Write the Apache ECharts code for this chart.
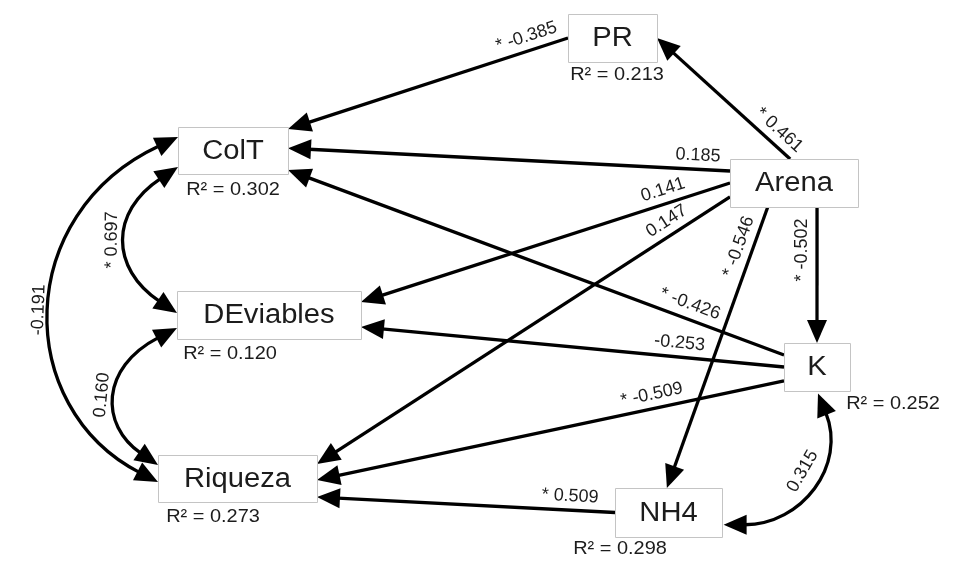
<!DOCTYPE html>
<html><head><meta charset="utf-8">
<script src="https://cdn.jsdelivr.net/npm/echarts@6/dist/echarts.min.js"></script>
<style>html,body{margin:0;padding:0;background:#fff}#c{width:956px;height:565px}</style>
</head><body><div id="c"></div>
<script>
// ---------------- data ----------------
const nodeNames = ['PR', 'ColT', 'Arena', 'DEviables', 'K', 'Riqueza', 'NH4'];
const nodeX = [612.5, 233, 794, 269, 817, 237.5, 668.5];
const nodeY = [38, 150.5, 183, 315, 367, 478.5, 512.5];
const rSquared = ['0.213', '0.302', null, '0.120', '0.252', '0.273', '0.298'];

const pathFrom = ['Arena', 'PR', 'Arena', 'Arena', 'Arena', 'Arena', 'Arena', 'K', 'K', 'K', 'NH4'];
const pathTo = ['PR', 'ColT', 'ColT', 'DEviables', 'Riqueza', 'NH4', 'K', 'ColT', 'DEviables', 'Riqueza', 'Riqueza'];
const pathCoef = ['0.461', '-0.385', '0.185', '0.141', '0.147', '-0.546', '-0.502', '-0.426', '-0.253', '-0.509', '0.509'];
const pathSig = [true, true, false, false, false, true, true, true, false, true, true];

const covA = ['ColT', 'DEviables', 'ColT', 'K'];
const covB = ['DEviables', 'Riqueza', 'Riqueza', 'NH4'];
const covCoef = ['0.697', '0.160', '-0.191', '0.315'];
const covSig = [true, false, false, false];

// ---------------- layout / style ----------------
const boxHalf = [[44.5, 24], [55, 23.5], [64, 24], [92, 24], [33, 24], [79.5, 23.5], [53.5, 24.5]];
const r2Offset = [[4.5, 37], [0, 39], null, [-39, 38.5], [76, 36.5], [-24.5, 38.5], [-48.5, 36]];
const pathAnchorFrom = [[-0.06, -1], [-1, 0], [-1, -0.5], [-1, 0], [-1, 0.58], [-0.41, 1], [0.36, 1], [-1, -0.5], [-1, 0], [-1, 0.58], [-1, 0]];
const pathAnchorTo = [[1, 0], [1, -0.91], [1, -0.1], [1, -0.54], [1, -0.62], [-0.03, -1], [0, -1], [1, 0.83], [1, 0.5], [1, 0.06], [1, 0.79]];
const pathLabelT = [0.153, 0.133, 0.074, 0.17, 0.135, 0.158, 0.316, 0.2, 0.25, 0.277, 0.153];
const pathLabelOff = [14, 14, 14, 14, 14, 14, 15, 15, 14, 14, 14];
const covAnchorA = [[-1, 0.7], [-1, 0.54], [-1, -0.57], [0.03, 1.1]];
const covAnchorB = [[-1, -0.08], [-1, -0.57], [-1, 0.15], [1.03, 0.5]];
const covCtrlA = [[-68, 45], [-77, 40], [-165, 77], [29, 72]];
const covCtrlB = [[-67, -45], [-58, -40], [-145, -75], [78, 0]];
const covLabelT = [0.5, 0.5, 0.5, 0.45];
const covLabelOff = [15, 15, 13, 15];

const FONT = '"Liberation Sans", Arial, Helvetica, sans-serif';
const ARROW_L = 23, ARROW_W = 20, LINE_W = 3.3;
const TXT = '#1c1c1c';

function normAngle(dx, dy) {
  let th = Math.atan2(dy, dx);
  if (th >= Math.PI / 2 - 1e-6) th -= Math.PI;
  else if (th < -Math.PI / 2 - 1e-6) th += Math.PI;
  return th;
}
function labelEl(p, th, text, off) {
  const ux = Math.sin(th), uy = -Math.cos(th);
  return {
    type: 'text', x: p[0] + ux * off, y: p[1] + uy * off, rotation: -th,
    style: { text: text, x: 0, y: 0, align: 'center', verticalAlign: 'middle',
      fontSize: 18, fontFamily: FONT, fill: TXT }
  };
}
function arrowHead(tip, ux, uy) {
  const bx = tip[0] - ux * ARROW_L, by = tip[1] - uy * ARROW_L;
  const nx = -uy * ARROW_W / 2, ny = ux * ARROW_W / 2;
  return { type: 'polygon', shape: { points: [[tip[0], tip[1]], [bx + nx, by + ny], [bx - nx, by - ny]] },
    style: { fill: '#000' } };
}
function anchor(c, idx, a) {
  return [c[0] + a[0] * boxHalf[idx][0], c[1] + a[1] * boxHalf[idx][1]];
}
function idxOf(n) { return nodeNames.indexOf(n); }

const pathData = pathFrom.map((f, i) => {
  const a = idxOf(f), b = idxOf(pathTo[i]);
  return [nodeX[a], nodeY[a], nodeX[b], nodeY[b]];
});
const covData = covA.map((f, i) => {
  const a = idxOf(f), b = idxOf(covB[i]);
  return [nodeX[a], nodeY[a], nodeX[b], nodeY[b]];
});
const nodeData = nodeNames.map((n, i) => [nodeX[i], nodeY[i]]);

const chart = echarts.init(document.getElementById('c'));
chart.setOption({
  animation: false,
  backgroundColor: '#fff',
  grid: { left: 0, right: 0, top: 0, bottom: 0 },
  xAxis: { type: 'value', min: 0, max: 956, show: false },
  yAxis: { type: 'value', min: 0, max: 565, inverse: true, show: false },
  series: [
    {
      type: 'custom', name: 'paths', z: 1, clip: false,
      dimensions: ['x1', 'y1', 'x2', 'y2'], encode: { x: [0, 2], y: [1, 3] },
      data: pathData,
      renderItem: function (params, api) {
        const i = params.dataIndex;
        const fi = idxOf(pathFrom[i]), ti = idxOf(pathTo[i]);
        const c1 = api.coord([api.value(0), api.value(1)]);
        const c2 = api.coord([api.value(2), api.value(3)]);
        const s = anchor(c1, fi, pathAnchorFrom[i]);
        const e = anchor(c2, ti, pathAnchorTo[i]);
        const dx = e[0] - s[0], dy = e[1] - s[1], len = Math.hypot(dx, dy);
        const ux = dx / len, uy = dy / len;
        const le = [e[0] - ux * (ARROW_L - 2), e[1] - uy * (ARROW_L - 2)];
        const t = pathLabelT[i];
        const lp = [s[0] + dx * t, s[1] + dy * t];
        const txt = (pathSig[i] ? '* ' : '') + pathCoef[i];
        return { type: 'group', children: [
          { type: 'line', shape: { x1: s[0], y1: s[1], x2: le[0], y2: le[1] }, style: { stroke: '#000', lineWidth: LINE_W } },
          arrowHead(e, ux, uy),
          labelEl(lp, normAngle(dx, dy), txt, pathLabelOff[i])
        ] };
      }
    },
    {
      type: 'custom', name: 'covariances', z: 1, clip: false,
      dimensions: ['x1', 'y1', 'x2', 'y2'], encode: { x: [0, 2], y: [1, 3] },
      data: covData,
      renderItem: function (params, api) {
        const i = params.dataIndex;
        const ai = idxOf(covA[i]), bi = idxOf(covB[i]);
        const c1 = api.coord([api.value(0), api.value(1)]);
        const c2 = api.coord([api.value(2), api.value(3)]);
        const A = anchor(c1, ai, covAnchorA[i]);
        const B = anchor(c2, bi, covAnchorB[i]);
        const P1 = [A[0] + covCtrlA[i][0], A[1] + covCtrlA[i][1]];
        const P2 = [B[0] + covCtrlB[i][0], B[1] + covCtrlB[i][1]];
        let ax = A[0] - P1[0], ay = A[1] - P1[1], al = Math.hypot(ax, ay); ax /= al; ay /= al;
        let bx = B[0] - P2[0], by = B[1] - P2[1], bl = Math.hypot(bx, by); bx /= bl; by /= bl;
        const A2 = [A[0] - ax * (ARROW_L - 2), A[1] - ay * (ARROW_L - 2)];
        const B2 = [B[0] - bx * (ARROW_L - 2), B[1] - by * (ARROW_L - 2)];
        const t = covLabelT[i], u = 1 - t;
        const pt = [0, 1].map(k => u * u * u * A[k] + 3 * u * u * t * P1[k] + 3 * u * t * t * P2[k] + t * t * t * B[k]);
        const tg = [0, 1].map(k => 3 * u * u * (P1[k] - A[k]) + 6 * u * t * (P2[k] - P1[k]) + 3 * t * t * (B[k] - P2[k]));
        const txt = (covSig[i] ? '* ' : '') + covCoef[i];
        return { type: 'group', children: [
          { type: 'bezierCurve', shape: { x1: A2[0], y1: A2[1], x2: B2[0], y2: B2[1], cpx1: P1[0], cpy1: P1[1], cpx2: P2[0], cpy2: P2[1] },
            style: { stroke: '#000', lineWidth: LINE_W, fill: null } },
          arrowHead(A, ax, ay),
          arrowHead(B, bx, by),
          labelEl(pt, normAngle(tg[0], tg[1]), txt, covLabelOff[i])
        ] };
      }
    },
    {
      type: 'custom', name: 'variables', z: 3, clip: false,
      dimensions: ['x', 'y'], encode: { x: 0, y: 1 },
      data: nodeData,
      renderItem: function (params, api) {
        const i = params.dataIndex;
        const c = api.coord([api.value(0), api.value(1)]);
        const hw = boxHalf[i][0], hh = boxHalf[i][1];
        const ch = [
          { type: 'rect', shape: { x: Math.round(c[0] - hw) + 0.5, y: Math.round(c[1] - hh) + 0.5, width: Math.round(2 * hw), height: Math.round(2 * hh) },
            style: { fill: '#fff', stroke: '#c4c4c4', lineWidth: 1 } },
          { type: 'text', x: c[0], y: c[1] + 1, scaleX: 1.08,
            style: { text: nodeNames[i], x: 0, y: 0, align: 'center', verticalAlign: 'middle', fontSize: 27, fontFamily: FONT, fill: TXT } }
        ];
        if (rSquared[i] !== null) {
          ch.push({ type: 'text', x: c[0] + r2Offset[i][0], y: c[1] + r2Offset[i][1], scaleX: 1.05,
            style: { text: 'R\u00B2 = ' + rSquared[i], x: 0, y: 0, align: 'center', verticalAlign: 'middle', fontSize: 19, fontFamily: FONT, fill: TXT } });
        }
        return { type: 'group', children: ch };
      }
    }
  ]
});
</script></body></html>
